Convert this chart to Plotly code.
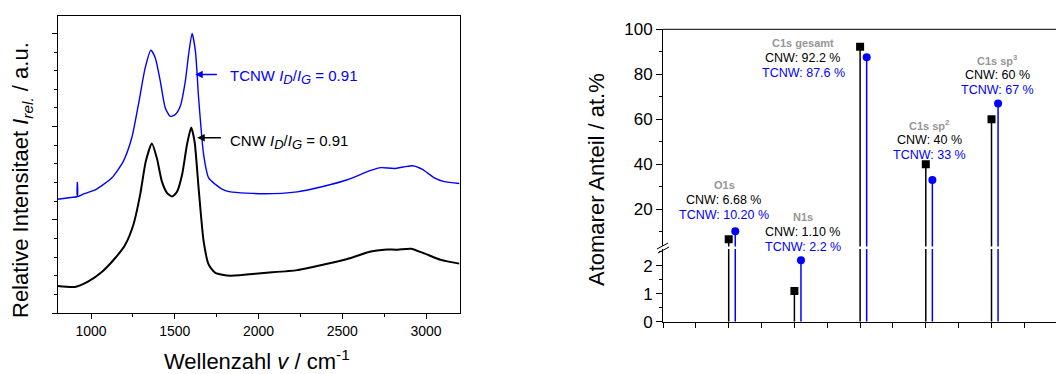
import plotly.graph_objects as go

W, H = 1056, 374
FONT = "Liberation Sans, Arial, sans-serif"
BLUE = "#0000ff"

# ---------------- Raman spectra (left panel) ----------------
cnw_wn = [800, 904, 984, 1064, 1144, 1203, 1253, 1293, 1327, 1363, 1393, 1423, 1453, 1483,
          1513, 1543, 1573, 1598, 1618, 1642, 1672, 1702, 1742, 1832, 2031, 2231, 2390, 2530,
          2670, 2750, 2830, 2910, 2989, 3089, 3200]
cnw_int = [0.29, 0.28, 0.34, 0.44, 0.59, 0.73, 0.95, 1.27, 1.63, 1.82, 1.66, 1.41, 1.29, 1.25,
           1.30, 1.48, 1.81, 1.99, 1.84, 1.34, 0.77, 0.52, 0.43, 0.40, 0.43, 0.46, 0.52, 0.58,
           0.66, 0.68, 0.68, 0.69, 0.64, 0.57, 0.53]

tcnw_wn = [800, 880, 917, 918, 919, 960, 1024, 1124, 1193, 1243, 1283, 1323, 1357, 1383, 1413,
           1443, 1473, 1503, 1533, 1563, 1582, 1603, 1623, 1642, 1672, 1702, 1742, 1782, 1832,
           2031, 2231, 2390, 2530, 2670, 2730, 2810, 2919, 2979, 3049, 3109, 3200]
tcnw_int = [1.22, 1.24, 1.25, 1.40, 1.25, 1.28, 1.32, 1.45, 1.63, 1.88, 2.24, 2.63, 2.82, 2.74,
            2.49, 2.20, 2.11, 2.13, 2.22, 2.49, 2.77, 3.00, 2.81, 2.31, 1.70, 1.45, 1.38, 1.33,
            1.30, 1.28, 1.30, 1.36, 1.43, 1.53, 1.56, 1.55, 1.58, 1.54, 1.45, 1.41, 1.39]

ratio_tcnw = "0.91"
ratio_cnw = "0.91"

# ---------------- XPS composition (right panel) ----------------
categories = ["O1s", "N1s", "C1s gesamt", "C1s sp<sup>2</sup>", "C1s sp<sup>3</sup>"]
cnw_pct = [6.68, 1.10, 92.2, 40, 60]
tcnw_pct = [10.20, 2.2, 87.6, 33, 67]
cnw_txt = ["6.68", "1.10", "92.2", "40", "60"]
tcnw_txt = ["10.20", "2.2", "87.6", "33", "67"]

# layout-only: label block positions (pixels: centre x, header y)
label_pos = [(724, 185), (803, 217), (803, 43), (929, 125), (997, 60)]

def px(x):
    return x / W

def py(y):
    return 1 - y / H

UP_MIN, LOW_MAX = 3.5, 2.6

fig = go.Figure()

fig.add_trace(go.Scatter(x=tcnw_wn, y=tcnw_int, mode="lines", xaxis="x", yaxis="y",
                         line=dict(color=BLUE, width=1.4, shape="spline", smoothing=0.6),
                         showlegend=False, hoverinfo="skip"))
fig.add_trace(go.Scatter(x=cnw_wn, y=cnw_int, mode="lines", xaxis="x", yaxis="y",
                         line=dict(color="black", width=2, shape="spline", smoothing=0.6),
                         showlegend=False, hoverinfo="skip"))

# stems
def stems(xs, vs):
    sx, sy = [], []
    for x, v in zip(xs, vs):
        sx += [x, x, None]
        sy += [0, v, None]
    return sx, sy

xb = [i + 1 for i in range(len(categories))]
xt = [i + 1.1 for i in range(len(categories))]

for xs, vs, col, sym in [(xb, cnw_pct, "black", "square"), (xt, tcnw_pct, BLUE, "circle")]:
    sx, sy = stems(xs, vs)
    for ya in ["y2", "y3"]:
        fig.add_trace(go.Scatter(x=sx, y=sy, mode="lines", xaxis="x2", yaxis=ya,
                                 line=dict(color=col, width=1.5), showlegend=False,
                                 hoverinfo="skip"))
    up = [(x, v) for x, v in zip(xs, vs) if v > UP_MIN]
    lo = [(x, v) for x, v in zip(xs, vs) if v < LOW_MAX]
    fig.add_trace(go.Scatter(x=[p[0] for p in up], y=[p[1] for p in up], mode="markers",
                             xaxis="x2", yaxis="y2",
                             marker=dict(color=col, symbol=sym, size=8, line=dict(width=0)),
                             showlegend=False))
    fig.add_trace(go.Scatter(x=[p[0] for p in lo], y=[p[1] for p in lo], mode="markers",
                             xaxis="x2", yaxis="y3",
                             marker=dict(color=col, symbol=sym, size=8, line=dict(width=0)),
                             showlegend=False))

annotations = []
# right panel labels
for cat, c, t, (lx, ly) in zip(categories, cnw_txt, tcnw_txt, label_pos):
    annotations.append(dict(x=px(lx), y=py(ly), xref="paper", yref="paper", showarrow=False,
                            text=f"<b>{cat}</b>", font=dict(family=FONT, size=11, color="#969696"),
                            xanchor="center", yanchor="middle"))
    annotations.append(dict(x=px(lx), y=py(ly + 15), xref="paper", yref="paper", showarrow=False,
                            text=f"CNW: {c} %", font=dict(family=FONT, size=12.5, color="black"),
                            xanchor="center", yanchor="middle"))
    annotations.append(dict(x=px(lx), y=py(ly + 30), xref="paper", yref="paper", showarrow=False,
                            text=f"TCNW: {t} %", font=dict(family=FONT, size=12.5, color=BLUE),
                            xanchor="center", yanchor="middle"))

# left panel arrows + ratio labels
SUBSTYLE = "font-size:13px"
def ratio_text(name, val):
    return (f"{name} <i>I</i><sub><span style='{SUBSTYLE}'><i>D</i></span></sub>/"
            f"<i>I</i><sub><span style='{SUBSTYLE}'><i>G</i></span></sub> = {val}")

annotations.append(dict(x=1622, y=2.56, ax=1760, ay=2.56, xref="x", yref="y", axref="x", ayref="y",
                        text="", showarrow=True, arrowhead=2, arrowsize=1, arrowwidth=1.5,
                        arrowcolor=BLUE))
annotations.append(dict(x=1634, y=1.88, ax=1784, ay=1.88, xref="x", yref="y", axref="x", ayref="y",
                        text="", showarrow=True, arrowhead=2, arrowsize=1, arrowwidth=1.5,
                        arrowcolor="black"))
annotations.append(dict(x=1820, y=2.53, xref="x", yref="y", showarrow=False, xanchor="left",
                        yanchor="middle", text=ratio_text("TCNW", ratio_tcnw),
                        font=dict(family=FONT, size=15, color=BLUE)))
annotations.append(dict(x=1820, y=1.83, xref="x", yref="y", showarrow=False, xanchor="left",
                        yanchor="middle", text=ratio_text("CNW", ratio_cnw),
                        font=dict(family=FONT, size=15, color="black")))

# axis titles
annotations.append(dict(x=px(257), y=py(360), xref="paper", yref="paper", showarrow=False,
                        text="Wellenzahl <i>v</i> / cm<sup>-1</sup>",
                        font=dict(family=FONT, size=22, color="black"),
                        xanchor="center", yanchor="middle"))
annotations.append(dict(x=px(22), y=py(180), xref="paper", yref="paper", showarrow=False,
                        text="Relative Intensitaet <i>I</i><sub><i>rel.</i></sub> / a.u.",
                        textangle=-90, font=dict(family=FONT, size=22, color="black"),
                        xanchor="center", yanchor="middle"))
annotations.append(dict(x=px(597), y=py(180), xref="paper", yref="paper", showarrow=False,
                        text="Atomarer Anteil / at.%", textangle=-90,
                        font=dict(family=FONT, size=22, color="black"),
                        xanchor="center", yanchor="middle"))

shapes = [
    # top border of right panel
    dict(type="line", xref="paper", yref="paper", x0=px(663), x1=1, y0=py(29.3), y1=py(29.3),
         line=dict(color="black", width=1)),
    # axis break marks
    dict(type="line", xref="paper", yref="paper", x0=px(657), x1=px(668), y0=py(249), y1=py(243),
         line=dict(color="black", width=1)),
    dict(type="line", xref="paper", yref="paper", x0=px(658), x1=px(669), y0=py(253), y1=py(247),
         line=dict(color="black", width=1)),
]

fig.update_layout(
    template="none",
    width=W, height=H, autosize=False,
    margin=dict(l=0, r=0, t=0, b=0, pad=0, autoexpand=False),
    paper_bgcolor="white", plot_bgcolor="white",
    font=dict(family=FONT, color="black"),
    showlegend=False,
    annotations=annotations,
    shapes=shapes,
    xaxis=dict(domain=[px(57.6), px(459.5)], range=[800, 3200], anchor="y", automargin=False,
               showline=True, linecolor="black", linewidth=1, mirror=True,
               ticks="outside", ticklen=5, tickcolor="black", tickwidth=1,
               tick0=0, dtick=500, tickfont=dict(size=14, family=FONT),
               minor=dict(ticks="outside", ticklen=3, dtick=250, tick0=0, tickcolor="black"),
               showgrid=False, zeroline=False),
    yaxis=dict(domain=[py(313), py(15.7)], range=[0, 3.19], anchor="x", automargin=False,
               showline=True, linecolor="black", linewidth=1, mirror=True,
               ticks="outside", ticklen=5, tickcolor="black", dtick=1, tick0=0,
               showticklabels=False,
               minor=dict(ticks="outside", ticklen=3, dtick=0.2, tick0=0, tickcolor="black"),
               showgrid=False, zeroline=False),
    xaxis2=dict(domain=[px(663), 1], range=[0, (1056 - 663) / 65.7], anchor="y3", automargin=False,
                showline=True, linecolor="black", linewidth=1,
                ticks="outside", ticklen=5, tickcolor="black", tick0=0, dtick=0.5,
                showticklabels=False, showgrid=False, zeroline=False),
    yaxis2=dict(domain=[py(246.4), py(29.3)], range=[UP_MIN, 100], anchor="x2", automargin=False,
                showline=True, linecolor="black", linewidth=1,
                ticks="outside", ticklen=6, tickcolor="black", tick0=0, dtick=20,
                tickfont=dict(size=17, family=FONT),
                minor=dict(ticks="outside", ticklen=3, dtick=10, tick0=0, tickcolor="black"),
                showgrid=False, zeroline=False),
    yaxis3=dict(domain=[py(321.7), py(249)], range=[0, LOW_MAX], anchor="x2", automargin=False,
                showline=True, linecolor="black", linewidth=1,
                ticks="outside", ticklen=6, tickcolor="black", tick0=0, dtick=1,
                tickfont=dict(size=17, family=FONT),
                minor=dict(ticks="outside", ticklen=3, dtick=0.5, tick0=0, tickcolor="black"),
                showgrid=False, zeroline=False),
)

fig.write_html("out.html", config={"displayModeBar": False, "responsive": False},
               post_script="document.body.style.margin='0';document.body.style.overflow='hidden';")
